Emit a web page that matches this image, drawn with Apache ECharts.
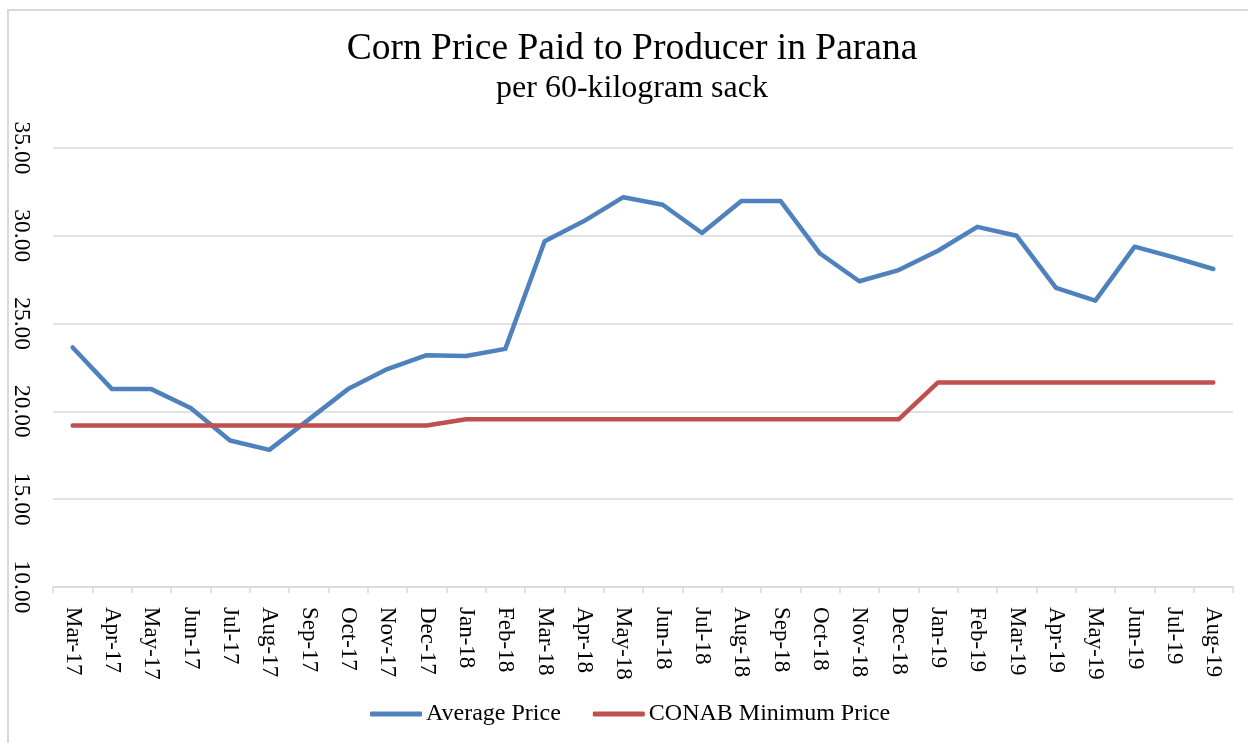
<!DOCTYPE html>
<html>
<head>
<meta charset="utf-8">
<script src="https://cdn.jsdelivr.net/npm/echarts@6/dist/echarts.min.js"></script>
<style>
html,body{margin:0;padding:0;background:#fff;}
#chart{width:1248px;height:743px;}
</style>
</head>
<body>
<div id="chart"></div>
<script>
const categories = ['Mar-17','Apr-17','May-17','Jun-17','Jul-17','Aug-17','Sep-17','Oct-17','Nov-17','Dec-17',
  'Jan-18','Feb-18','Mar-18','Apr-18','May-18','Jun-18','Jul-18','Aug-18','Sep-18','Oct-18','Nov-18','Dec-18',
  'Jan-19','Feb-19','Mar-19','Apr-19','May-19','Jun-19','Jul-19','Aug-19'];
const averagePrice = [23.64,21.27,21.27,20.19,18.34,17.81,19.53,21.27,22.41,23.20,
  23.16,23.56,29.69,30.84,32.20,31.77,30.16,31.98,31.98,28.99,27.41,28.05,
  29.15,30.51,30.00,27.03,26.31,29.38,28.77,28.11];
const conabMinimum = [19.20,19.20,19.20,19.20,19.20,19.20,19.20,19.20,19.20,19.20,
  19.55,19.55,19.55,19.55,19.55,19.55,19.55,19.55,19.55,19.55,19.55,19.55,
  21.65,21.65,21.65,21.65,21.65,21.65,21.65,21.65];
const titleText = 'Corn Price Paid to Producer in Parana';
const subtitleText = 'per 60-kilogram sack';
const seriesNames = ['Average Price','CONAB Minimum Price'];

const FONT = '"Liberation Serif","Times New Roman",serif';
const chart = echarts.init(document.getElementById('chart'));
chart.setOption({
  backgroundColor: '#fff',
  animation: false,
  title: {
    text: titleText,
    subtext: subtitleText,
    left: 632,
    textAlign: 'center',
    top: 30,
    itemGap: 5,
    padding: 0,
    textStyle: {fontFamily: FONT, fontSize: 37.5, fontWeight: 'normal', color: '#000'},
    subtextStyle: {fontFamily: FONT, fontSize: 32, color: '#000'}
  },
  legend: {
    bottom: 17,
    left: 370,
    padding: 0,
    icon: 'roundRect',
    itemWidth: 52,
    itemHeight: 5,
    itemGap: 32,
    textStyle: {fontFamily: FONT, fontSize: 24, color: '#000', padding: [0,0,0,-1]},
    data: seriesNames
  },
  grid: {left: 53, right: 15, top: 148, bottom: 156, containLabel: false},
  xAxis: {
    type: 'category',
    data: categories,
    boundaryGap: true,
    axisLine: {lineStyle: {color: '#d9d9d9', width: 1.5}},
    axisTick: {show: true, length: 6, lineStyle: {color: '#d9d9d9', width: 1.5}},
    axisLabel: {interval: 0, rotate: -90, margin: 20, fontFamily: FONT, fontSize: 23, color: '#000'}
  },
  yAxis: {
    type: 'value',
    min: 10, max: 35, interval: 5,
    axisLine: {show: false},
    axisTick: {show: false},
    splitLine: {lineStyle: {color: '#d9d9d9', width: 1.5}},
    axisLabel: {rotate: -90, margin: 20, fontFamily: FONT, fontSize: 23.5, color: '#000',
      formatter: v => v.toFixed(2)}
  },
  series: [
    {name: seriesNames[0], type: 'line', data: averagePrice, symbol: 'none',
     itemStyle: {color: '#4F81BD'},
     lineStyle: {color: '#4F81BD', width: 4.5, cap: 'round', join: 'round'}},
    {name: seriesNames[1], type: 'line', data: conabMinimum, symbol: 'none',
     itemStyle: {color: '#C0504D'},
     lineStyle: {color: '#C0504D', width: 4.5, cap: 'round', join: 'round'}}
  ],
  graphic: [
    {type: 'polyline', shape: {points: [[8, 743], [8, 10], [1248, 10]]},
     style: {stroke: '#d9d9d9', lineWidth: 2, fill: null}, silent: true}
  ]
});
</script>
</body>
</html>
